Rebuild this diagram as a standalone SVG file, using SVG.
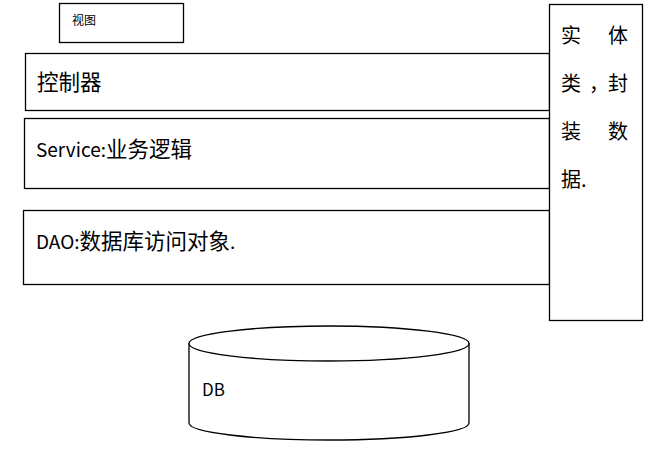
<svg xmlns="http://www.w3.org/2000/svg" width="657" height="464" viewBox="0 0 657 464">
<style>
.box{fill:#fff;stroke:#000;stroke-width:1.3}
.t{font-family:"Noto Sans CJK SC","Noto Sans",sans-serif;fill:#000}
.cj{font-size:21.5px}
</style>
<rect width="657" height="464" fill="#fff"/>
<g id="view">
<rect class="box" x="59.5" y="3.5" width="124" height="39"/>
<text class="t" x="72" y="25" font-size="12">视图</text>
</g>
<g id="controller">
<rect class="box" x="25.5" y="53.5" width="524" height="57"/>
<text class="t" x="37" y="90" font-size="21.5">控制器</text>
</g>
<g id="service">
<rect class="box" x="24.5" y="118.5" width="525" height="70"/>
<text class="t" x="36" y="157" font-size="19">Service:<tspan class="cj">业务逻辑</tspan></text>
</g>
<g id="dao">
<rect class="box" x="23.5" y="210.5" width="526" height="74"/>
<text class="t" x="36" y="249" font-size="19">DAO:<tspan class="cj">数据库访问对象</tspan>.</text>
</g>
<g id="entity">
<rect class="box" x="549.5" y="4.5" width="93" height="316"/>
<text class="t" font-size="20"><tspan x="561" y="43">实</tspan><tspan x="608" y="43">体</tspan></text>
<text class="t" font-size="20"><tspan x="561" y="91">类</tspan><tspan x="589" y="91">，</tspan><tspan x="608" y="91">封</tspan></text>
<text class="t" font-size="20"><tspan x="561" y="139">装</tspan><tspan x="608" y="139">数</tspan></text>
<text class="t" font-size="20"><tspan x="561" y="187">据.</tspan></text>
</g>
<g id="db">
<path class="box" d="M189,343 L189,423 A140,17 0 0 0 469,423 L469,343"/>
<ellipse class="box" cx="329" cy="343.5" rx="140" ry="17.5"/>
<text class="t" x="202" y="396" font-size="17">DB</text>
</g>
<g id="connectors"></g>
</svg>
